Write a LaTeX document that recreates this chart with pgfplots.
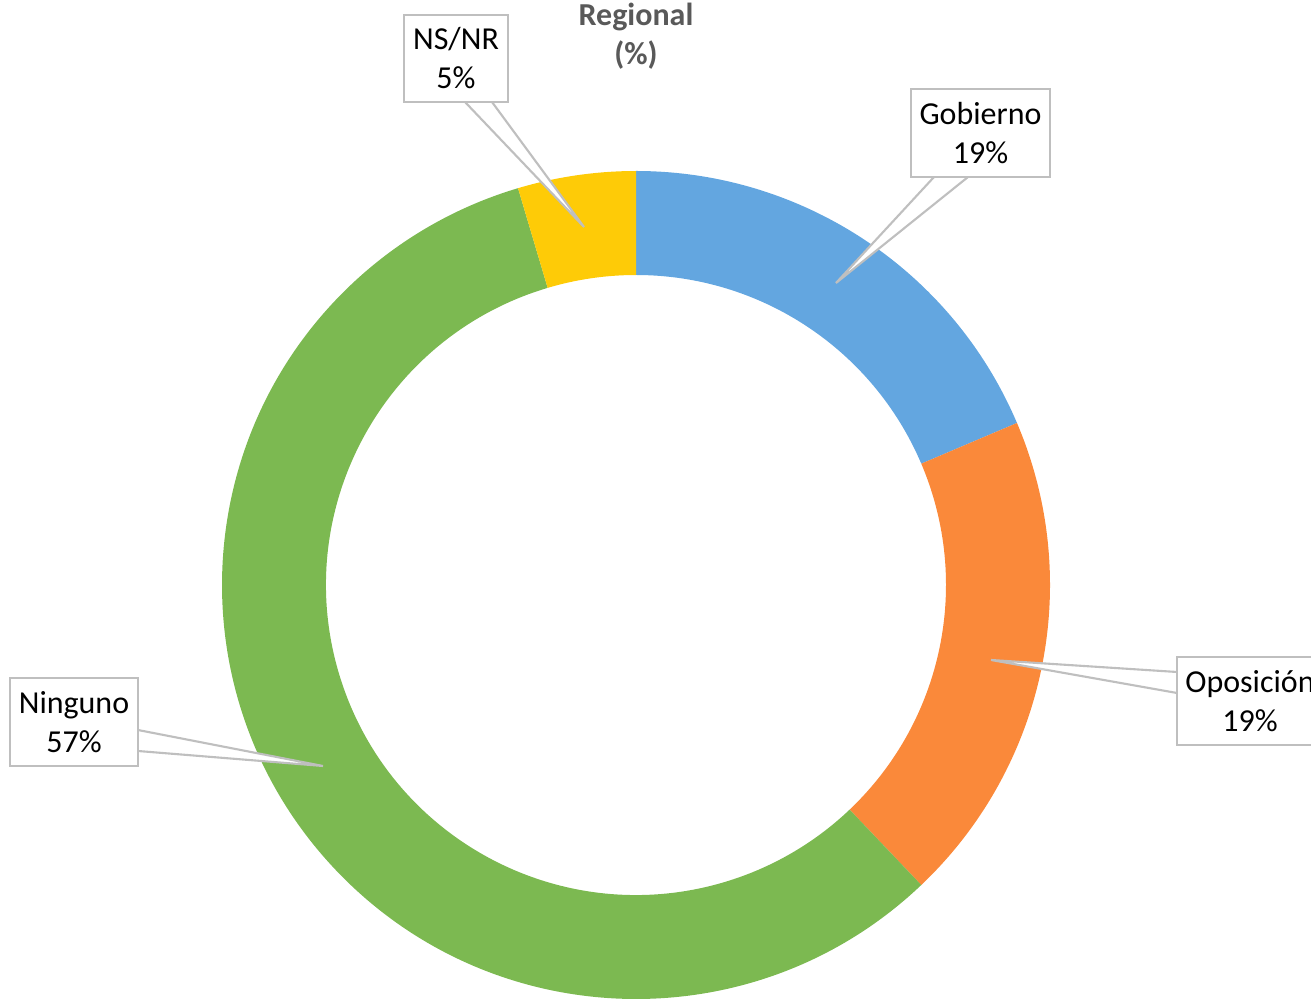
\documentclass[border=0pt]{standalone}
\usepackage{pgfplots}
\usepackage{pgfplotstable}
\pgfplotsset{compat=1.18}
\usetikzlibrary{calc}
\usepackage{fontspec}
\setmainfont{Carlito}
\definecolor{cgob}{RGB}{99,166,224}
\definecolor{copo}{RGB}{250,137,58}
\definecolor{cnin}{RGB}{124,185,81}
\definecolor{cns}{RGB}{254,203,7}
\definecolor{cbox}{RGB}{191,191,191}
\definecolor{ctitle}{RGB}{89,89,89}

\pgfplotstableread{
label value
Gobierno 18.6
Oposicion 19.3
Ninguno 57.5
NSNR 4.6
}\datatable

\begin{document}
\begin{tikzpicture}
\pgfmathsetmacro\aA{90}
\pgfplotstablegetelem{0}{value}\of\datatable
\pgfmathsetmacro\aB{\aA-3.6*\pgfplotsretval}
\pgfplotstablegetelem{1}{value}\of\datatable
\pgfmathsetmacro\aC{\aB-3.6*\pgfplotsretval}
\pgfplotstablegetelem{2}{value}\of\datatable
\pgfmathsetmacro\aD{\aC-3.6*\pgfplotsretval}
\pgfplotstablegetelem{3}{value}\of\datatable
\pgfmathsetmacro\aE{\aD-3.6*\pgfplotsretval}
\def\Ro{8.28cm}
\def\Ri{6.2cm}
\begin{axis}[
  width=26.22cm, height=20cm, scale only axis,
  xmin=0, xmax=1311, ymin=0, ymax=1000,
  hide axis, clip=false,
]
\coordinate (bl) at (rel axis cs:0,0);
\coordinate (tr) at (rel axis cs:1,1);
\coordinate (c) at (axis cs:636,415);
% ring segments
\fill[cgob] ($(c)+(\aA:\Ro)$) arc[start angle=\aA, end angle=\aB, radius=\Ro] -- ($(c)+(\aB:\Ri)$) arc[start angle=\aB, end angle=\aA, radius=\Ri] -- cycle;
\fill[copo] ($(c)+(\aB:\Ro)$) arc[start angle=\aB, end angle=\aC, radius=\Ro] -- ($(c)+(\aC:\Ri)$) arc[start angle=\aC, end angle=\aB, radius=\Ri] -- cycle;
\fill[cnin] ($(c)+(\aC:\Ro)$) arc[start angle=\aC, end angle=\aD, radius=\Ro] -- ($(c)+(\aD:\Ri)$) arc[start angle=\aD, end angle=\aC, radius=\Ri] -- cycle;
\fill[cns] ($(c)+(\aD:\Ro)$) arc[start angle=\aD, end angle=\aE, radius=\Ro] -- ($(c)+(\aE:\Ri)$) arc[start angle=\aE, end angle=\aD, radius=\Ri] -- cycle;
% title
\node[font=\fontsize{18.2}{22.2}\selectfont\bfseries, text=ctitle, align=center, anchor=center] at (axis cs:636,963.5) {Regional\\(\%)};
% callouts
\fill[white] (axis cs:465,898) -- (axis cs:584,773) -- (axis cs:492,898) -- cycle;
\draw[cbox, line width=1.2pt] (axis cs:465,898) -- (axis cs:584,773) -- (axis cs:492,898);
\fill[white] (axis cs:934,823) -- (axis cs:836,717) -- (axis cs:968,823) -- cycle;
\draw[cbox, line width=1.2pt] (axis cs:934,823) -- (axis cs:836,717) -- (axis cs:968,823);
\fill[white] (axis cs:1177,328) -- (axis cs:991,340) -- (axis cs:1177,307) -- cycle;
\draw[cbox, line width=1.2pt] (axis cs:1177,328) -- (axis cs:991,340) -- (axis cs:1177,307);
\fill[white] (axis cs:138,270) -- (axis cs:323,234) -- (axis cs:138,249) -- cycle;
\draw[cbox, line width=1.2pt] (axis cs:138,270) -- (axis cs:323,234) -- (axis cs:138,249);
% label boxes
\tikzset{lbl/.style={draw=cbox, line width=1.2pt, fill=white, inner sep=0pt, align=center, font=\fontsize{18.2}{22.2}\selectfont, anchor=center}}
\node[lbl, minimum width=2.08cm, minimum height=1.74cm] at (axis cs:456,941.5) {NS/NR\\5\%};
\node[lbl, minimum width=2.78cm, minimum height=1.76cm] at (axis cs:980.5,867) {Gobierno\\19\%};
\node[lbl, minimum width=2.92cm, minimum height=1.76cm] at (axis cs:1250,299) {Oposición\\19\%};
\node[lbl, minimum width=2.56cm, minimum height=1.76cm] at (axis cs:74,278) {Ninguno\\57\%};
\end{axis}
\pgfresetboundingbox
\useasboundingbox (bl) rectangle (tr);
\end{tikzpicture}
\end{document}
